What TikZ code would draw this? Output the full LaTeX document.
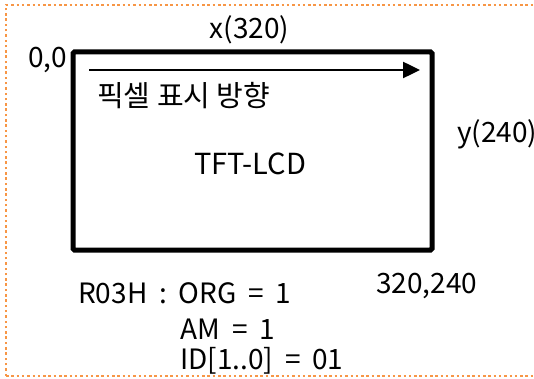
\documentclass[tikz,border=0pt]{standalone}
\usepackage{fontspec}
\setmainfont{Noto Sans CJK KR}
\usetikzlibrary{arrows.meta,positioning}
\definecolor{frameorange}{RGB}{247,150,70}
\newcommand\widespaces{\spaceskip=0.42em\relax}
\tikzset{
    %Define standard arrow tip
    >={Triangle[length=17pt,width=16pt]},
    %Define style for the screen
    screen/.style={
           rectangle,
           rounded corners=1.5pt,
           draw=black, line width=5pt,
           minimum width=359pt,
           minimum height=198pt},
    %Define style for texts
    txt/.style={
           inner sep=0pt,
           anchor=base west,
           font={\fontsize{28}{34}\selectfont\widespaces}},
    bigtxt/.style={
           txt,
           font=\fontsize{29}{34}\selectfont},
    % Define arrow style
    pil/.style={
           ->,
           line width=2.5pt},
    frame/.style={
           draw=frameorange,
           line width=2.5pt,
           dash pattern=on 2.5pt off 2.8pt}
}
\begin{document}
\begin{tikzpicture}[x=1pt,y=-1pt]
\useasboundingbox (0,0) rectangle (534,379);
\draw[frame] (6,376) -- (6,5) -- (560,5) (6,376) -- (560,376);
\node[screen](lcd) at (252.5,151){};
\coordinate (pixstart) at (89,70);
\coordinate (pixend) at (420,70);
\draw[pil] (pixstart) -- (pixend);
\node[txt](origin) at (28,68){0,0};
\node[txt](xaxis) at (209.5,39){x(320)};
\node[txt](yaxis) at (457,143){y(240)};
\node[txt](corner) at (376,293){320,240};
\node[bigtxt](dir) at (97,107){픽셀 표시 방향};
\node[bigtxt](name) at (194,174.5){TFT-LCD};
\node[txt](reg) at (78,303){R03H : ORG = 1};
\node[txt](am) at (180.5,339){AM = 1};
\node[txt](id) at (180,369){ID[1..0] = 01};
\end{tikzpicture}
\end{document}
